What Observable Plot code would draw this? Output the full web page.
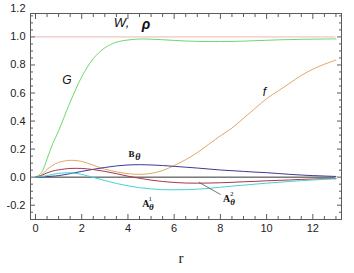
<!DOCTYPE html>
<html><head><meta charset="utf-8">
<script src="https://cdn.jsdelivr.net/npm/d3@7"></script>
<script src="https://cdn.jsdelivr.net/npm/@observablehq/plot@0.6"></script>
<style>body{margin:0;background:#fff;} svg{display:block}</style>
</head><body><div id="chart"></div>
<script>
// radial grid
const R  = [0,0.25,0.5,0.75,1,1.5,2,2.5,3,3.5,4,4.5,5,5.5,6,6.5,7,7.5,8,8.5,9,9.5,10,10.5,11,11.5,12,12.5,13];
// series values
const G  = [0,0.03,0.13,0.24,0.33,0.535,0.715,0.845,0.922,0.962,0.978,0.985,0.984,0.98,0.975,0.971,0.968,0.967,0.967,0.968,0.97,0.973,0.976,0.979,0.981,0.983,0.984,0.985,0.986];
const f  = [0,0.015,0.055,0.085,0.105,0.12,0.112,0.085,0.057,0.038,0.025,0.02,0.027,0.047,0.083,0.125,0.175,0.235,0.295,0.35,0.42,0.49,0.56,0.615,0.67,0.725,0.77,0.805,0.835];
const Btheta  = [0,0.001,0.004,0.007,0.011,0.025,0.041,0.056,0.069,0.08,0.087,0.089,0.087,0.083,0.077,0.071,0.065,0.058,0.051,0.046,0.041,0.036,0.032,0.026,0.02,0.015,0.011,0.008,0.005];
const A2theta = [0,0.012,0.03,0.044,0.052,0.062,0.062,0.054,0.041,0.025,0.007,-0.008,-0.021,-0.031,-0.038,-0.042,-0.043,-0.042,-0.04,-0.037,-0.033,-0.03,-0.026,-0.023,-0.02,-0.016,-0.013,-0.011,-0.01];
const A1theta = [0,0.004,0.011,0.02,0.027,0.031,0.02,-0.002,-0.024,-0.045,-0.062,-0.075,-0.084,-0.089,-0.09,-0.089,-0.086,-0.08,-0.072,-0.064,-0.057,-0.05,-0.043,-0.037,-0.031,-0.025,-0.02,-0.015,-0.012];
const Wrho = 1.0;   // W, rho level
const zeroLevel = 0;

// tick values
const xMajor = [0,2,4,6,8,10,12];
const yMajor = [-0.2,0,0.2,0.4,0.6,0.8,1.0];
const yLabels = [-0.2,0,0.2,0.4,0.6,0.8,1.0,1.2];
const xMinor = [-0.5+0.5,0.5,1,1.5,2.5,3,3.5,4.5,5,5.5,6.5,7,7.5,8.5,9,9.5,10.5,11,11.5,12.5,13];
const yMinor = [-0.25,-0.15,-0.1,-0.05,0.05,0.1,0.15,0.25,0.3,0.35,0.45,0.5,0.55,0.65,0.7,0.75,0.85,0.9,0.95,1.05,1.1,1.15];

// annotation anchors (data coordinates)
const labelMain = [
  {t:"G", r:1.36, v:0.69},
  {t:"f", r:9.91, v:0.604}
];
const labelW = {r:3.39, v:1.098};
const labelB = {r:4.15, v:0.162};
const labelA1 = {r:4.77, v:-0.191};
const labelA2 = {r:8.27, v:-0.156};
const leader = {r1:7.06, v1:-0.036, r2:8.01, v2:-0.124};

const rows = (vals) => R.map((r,i)=>({r, v: vals[i]}));

const frameColor = "#5a5a5a";
const serif = "'Liberation Serif', 'Times New Roman', serif";
const sans = "'Liberation Sans', Arial, sans-serif";

const chart = Plot.plot({
  width: 354, height: 273,
  marginLeft: 30, marginRight: 13, marginTop: 13, marginBottom: 54,
  x: {domain: [-0.216, 13.24]},
  y: {domain: [-0.302, 1.167]},
  style: {fontFamily: sans, fontSize: "11px", color: "#222", background: "#fff"},
  marks: [
    Plot.ruleY([Wrho], {x1: R[0], x2: R[R.length-1], stroke: "#e8b7b7", strokeWidth: 1}),
    Plot.ruleY([zeroLevel], {x1: R[0], x2: R[R.length-1], stroke: "#333", strokeWidth: 1}),
    Plot.line(rows(G), {x:"r", y:"v", stroke:"#6bd96b", strokeWidth:1, curve:"catmull-rom"}),
    Plot.line(rows(f), {x:"r", y:"v", stroke:"#e2a766", strokeWidth:1, curve:"catmull-rom"}),
    Plot.line(rows(Btheta), {x:"r", y:"v", stroke:"#3b3b96", strokeWidth:1, curve:"catmull-rom"}),
    Plot.line(rows(A2theta), {x:"r", y:"v", stroke:"#a8364a", strokeWidth:1, curve:"catmull-rom"}),
    Plot.line(rows(A1theta), {x:"r", y:"v", stroke:"#45d3d6", strokeWidth:1, curve:"catmull-rom"}),
    Plot.link([leader], {x1:"r1", y1:"v1", x2:"r2", y2:"v2", stroke:"#555", strokeWidth:0.8}),
    Plot.frame({stroke: frameColor}),
    // ticks, inward, all four sides
    Plot.axisX(xMajor, {anchor:"bottom", tickSize:-5, stroke: frameColor, tickFormat: () => "", label: null}),
    Plot.axisX(xMajor, {anchor:"top", tickSize:-5, stroke: frameColor, tickFormat: () => "", label: null}),
    Plot.axisX(xMinor, {anchor:"bottom", tickSize:-3, stroke: frameColor, tickFormat: () => "", label: null}),
    Plot.axisX(xMinor, {anchor:"top", tickSize:-3, stroke: frameColor, tickFormat: () => "", label: null}),
    Plot.axisY(yMajor, {anchor:"left", tickSize:-5, stroke: frameColor, tickFormat: () => "", label: null}),
    Plot.axisY(yMajor, {anchor:"right", tickSize:-5, stroke: frameColor, tickFormat: () => "", label: null}),
    Plot.axisY(yMinor, {anchor:"left", tickSize:-3, stroke: frameColor, tickFormat: () => "", label: null}),
    Plot.axisY(yMinor, {anchor:"right", tickSize:-3, stroke: frameColor, tickFormat: () => "", label: null}),
    // tick labels
    Plot.axisX(xMajor, {anchor:"bottom", tickSize:0, tickPadding:5, tickFormat: d => String(d), label: null, fill:"#222", fontSize: 11}),
    Plot.axisY(yLabels, {anchor:"left", tickSize:0, tickPadding:5, tickFormat: d => d.toFixed(1), label: null, fill:"#222", fontSize: 11}),
    // axis title
    Plot.text(["r"], {frameAnchor:"bottom", dx:-5, dy:43, fontFamily: serif, fontSize: 15, fill:"#222"}),
    // curve labels
    Plot.text(labelMain, {x:"r", y:"v", text:"t", fontStyle:"italic", fontSize: 12, fill:"#111"}),
    Plot.text([labelW], {x:"r", y:"v", text: () => "W,", textAnchor:"start", fontStyle:"italic", fontSize: 13, fill:"#111"}),
    Plot.text([labelW], {x:"r", y:"v", text: () => "ρ", textAnchor:"start", dx: 28, dy: 1, fontStyle:"italic", fontWeight:"bold", fontSize: 14, fill:"#111"}),
    Plot.text([labelB], {x:"r", y:"v", text: () => "B", fontFamily: serif, fontWeight:"bold", fontSize: 9, fill:"#111"}),
    Plot.text([labelB], {x:"r", y:"v", text: () => "θ", dx: 6.5, dy: 2.5, fontFamily: serif, fontStyle:"italic", fontWeight:"bold", fontSize: 10, fill:"#111"}),
    Plot.text([labelA1], {x:"r", y:"v", text: () => "A", fontFamily: serif, fontWeight:"bold", fontSize: 10, fill:"#111"}),
    Plot.text([labelA1], {x:"r", y:"v", text: () => "1", dx: 4.5, dy: -5, fontFamily: serif, fontSize: 7, fill:"#111"}),
    Plot.text([labelA1], {x:"r", y:"v", text: () => "θ", dx: 5.5, dy: 3.5, fontFamily: serif, fontStyle:"italic", fontWeight:"bold", fontSize: 9, fill:"#111"}),
    Plot.text([labelA2], {x:"r", y:"v", text: () => "A", fontFamily: serif, fontWeight:"bold", fontSize: 10, fill:"#111"}),
    Plot.text([labelA2], {x:"r", y:"v", text: () => "2", dx: 5, dy: -5.5, fontFamily: serif, fontSize: 7, fill:"#111"}),
    Plot.text([labelA2], {x:"r", y:"v", text: () => "θ", dx: 6, dy: 3.5, fontFamily: serif, fontStyle:"italic", fontWeight:"bold", fontSize: 9, fill:"#111"})
  ]
});
document.getElementById("chart").appendChild(chart);
</script>
</body></html>
